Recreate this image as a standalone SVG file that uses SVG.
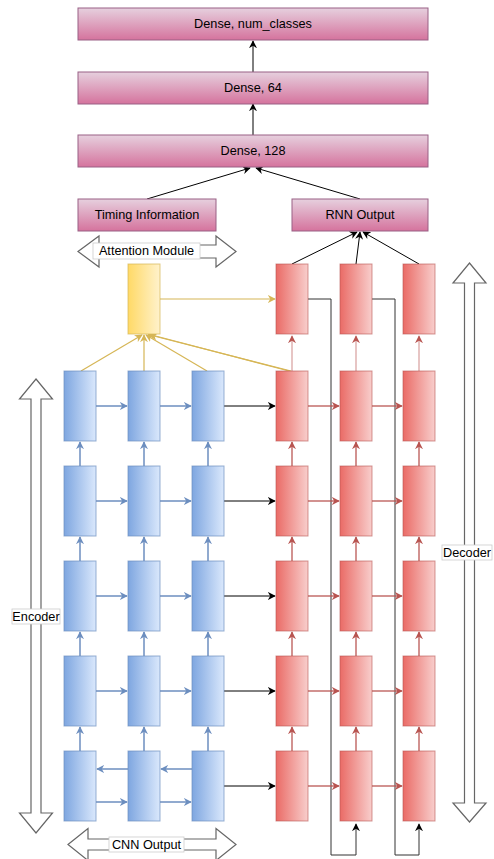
<svg xmlns="http://www.w3.org/2000/svg" width="494" height="859" viewBox="0 0 494 859">
<defs>
<linearGradient id="gBlue" x1="0" y1="0" x2="1" y2="0"><stop offset="0" stop-color="#7ea6e0"/><stop offset="1" stop-color="#dae8fc"/></linearGradient>
<linearGradient id="gRed" x1="0" y1="0" x2="1" y2="0"><stop offset="0" stop-color="#ea6b66"/><stop offset="1" stop-color="#f8cecc"/></linearGradient>
<linearGradient id="gYel" x1="0" y1="0" x2="1" y2="0"><stop offset="0" stop-color="#ffd966"/><stop offset="1" stop-color="#fff2cc"/></linearGradient>
<linearGradient id="gPink" x1="0" y1="0" x2="0" y2="1"><stop offset="0" stop-color="#e6d0de"/><stop offset="1" stop-color="#d5739d"/></linearGradient>
<marker id="aK" viewBox="0 0 10 10" refX="9" refY="5" markerWidth="8" markerHeight="8" markerUnits="userSpaceOnUse" orient="auto"><path d="M0,0 L10,5 L0,10 L3,5 Z" fill="#000"/></marker>
<marker id="aB" viewBox="0 0 10 10" refX="9" refY="5" markerWidth="8" markerHeight="8" markerUnits="userSpaceOnUse" orient="auto"><path d="M0,0 L10,5 L0,10 L3,5 Z" fill="#6c8ebf"/></marker>
<marker id="aR" viewBox="0 0 10 10" refX="9" refY="5" markerWidth="8" markerHeight="8" markerUnits="userSpaceOnUse" orient="auto"><path d="M0,0 L10,5 L0,10 L3,5 Z" fill="#b85450"/></marker>
<marker id="aY" viewBox="0 0 10 10" refX="9" refY="5" markerWidth="8" markerHeight="8" markerUnits="userSpaceOnUse" orient="auto"><path d="M0,0 L10,5 L0,10 L3,5 Z" fill="#d6b656"/></marker>
</defs>
<style>
text{font-family:"Liberation Sans",Arial,sans-serif;font-size:12.7px;fill:#000;text-anchor:middle;dominant-baseline:central}
.dense{fill:url(#gPink);stroke:#996185;stroke-width:1}
.blue{fill:url(#gBlue);stroke:#6c8ebf;stroke-opacity:0.7}
.red{fill:url(#gRed);stroke:#b85450;stroke-opacity:0.6}
.yel{fill:url(#gYel);stroke:#d6b656;stroke-opacity:0.7}
.big{fill:#fff;stroke:#666;stroke-width:1.2}
.lbl{fill:#fff;stroke:#ccc;stroke-width:0.8}
.ck{fill:none;stroke:#000;stroke-width:1;marker-end:url(#aK)}
.cl{fill:none;stroke:#333;stroke-width:1}
.cb{fill:none;stroke:#6c8ebf;stroke-width:1.5;marker-end:url(#aB)}
.cr{fill:none;stroke:#b85450;stroke-width:1.5;stroke-opacity:0.85;marker-end:url(#aR)}
.cr2{fill:none;stroke:#b85450;stroke-width:1.5;stroke-opacity:0.45;marker-end:url(#aR)}
.cy{fill:none;stroke:#d6b656;stroke-width:1.2;marker-end:url(#aY)}
</style>

<g id="connectors">
<!-- dense chain -->
<line class="ck" x1="253" y1="72" x2="253" y2="41"/>
<line class="ck" x1="253" y1="135" x2="253" y2="104"/>
<line class="ck" x1="147" y1="199" x2="250" y2="168"/>
<line class="ck" x1="360" y1="199" x2="256" y2="168"/>
<!-- to RNN output -->
<line class="ck" x1="292" y1="264" x2="357" y2="232"/>
<line class="ck" x1="356" y1="264" x2="360" y2="232"/>
<line class="ck" x1="419" y1="264" x2="363" y2="232"/>
<!-- attention -->
<line class="cy" x1="160" y1="299" x2="275" y2="299"/>
<line class="cy" x1="81" y1="371" x2="142" y2="335"/>
<line class="cy" x1="144" y1="371" x2="144" y2="335"/>
<line class="cy" x1="207" y1="371" x2="146" y2="335"/>
<line class="cy" x1="291" y1="371" x2="150" y2="335"/>
<line class="cy" x1="289" y1="371" x2="148" y2="334"/>
<!-- loops -->
<polyline class="cl" points="308,299 331,299 331,855 356,855 356,824" style="marker-end:url(#aK)"/>
<polyline class="cl" points="372,299 395,299 395,855 419,855 419,824" style="marker-end:url(#aK)"/>
<!-- encoder horizontals rows 1-4 -->
<g>
<line class="cb" x1="96" y1="406" x2="127" y2="406"/><line class="cb" x1="160" y1="406" x2="191" y2="406"/>
<line class="cb" x1="96" y1="501" x2="127" y2="501"/><line class="cb" x1="160" y1="501" x2="191" y2="501"/>
<line class="cb" x1="96" y1="596" x2="127" y2="596"/><line class="cb" x1="160" y1="596" x2="191" y2="596"/>
<line class="cb" x1="96" y1="691" x2="127" y2="691"/><line class="cb" x1="160" y1="691" x2="191" y2="691"/>
<line class="cb" x1="128" y1="769" x2="97" y2="769"/><line class="cb" x1="192" y1="769" x2="161" y2="769"/>
<line class="cb" x1="96" y1="802" x2="127" y2="802"/><line class="cb" x1="160" y1="802" x2="191" y2="802"/>
</g>
<!-- encoder verticals -->
<g>
<line class="cb" x1="80" y1="466" x2="80" y2="442"/><line class="cb" x1="144" y1="466" x2="144" y2="442"/><line class="cb" x1="208" y1="466" x2="208" y2="442"/>
<line class="cb" x1="80" y1="561" x2="80" y2="537"/><line class="cb" x1="144" y1="561" x2="144" y2="537"/><line class="cb" x1="208" y1="561" x2="208" y2="537"/>
<line class="cb" x1="80" y1="656" x2="80" y2="632"/><line class="cb" x1="144" y1="656" x2="144" y2="632"/><line class="cb" x1="208" y1="656" x2="208" y2="632"/>
<line class="cb" x1="80" y1="751" x2="80" y2="727"/><line class="cb" x1="144" y1="751" x2="144" y2="727"/><line class="cb" x1="208" y1="751" x2="208" y2="727"/>
</g>
<!-- encoder to decoder -->
<g>
<line class="ck" x1="224" y1="406" x2="275" y2="406"/>
<line class="ck" x1="224" y1="501" x2="275" y2="501"/>
<line class="ck" x1="224" y1="596" x2="275" y2="596"/>
<line class="ck" x1="224" y1="691" x2="275" y2="691"/>
<line class="ck" x1="224" y1="786" x2="275" y2="786"/>
</g>
<!-- decoder horizontals -->
<g>
<line class="cr" x1="308" y1="406" x2="339" y2="406"/><line class="cr" x1="372" y1="406" x2="402" y2="406"/>
<line class="cr" x1="308" y1="501" x2="339" y2="501"/><line class="cr" x1="372" y1="501" x2="402" y2="501"/>
<line class="cr" x1="308" y1="596" x2="339" y2="596"/><line class="cr" x1="372" y1="596" x2="402" y2="596"/>
<line class="cr" x1="308" y1="691" x2="339" y2="691"/><line class="cr" x1="372" y1="691" x2="402" y2="691"/>
<line class="cr" x1="308" y1="786" x2="339" y2="786"/><line class="cr" x1="372" y1="786" x2="402" y2="786"/>
</g>
<!-- decoder verticals -->
<g>
<line class="cr2" x1="292" y1="371" x2="292" y2="336"/><line class="cr2" x1="356" y1="371" x2="356" y2="336"/><line class="cr2" x1="419" y1="371" x2="419" y2="336"/>
<line class="cr" x1="292" y1="466" x2="292" y2="442"/><line class="cr" x1="356" y1="466" x2="356" y2="442"/><line class="cr" x1="419" y1="466" x2="419" y2="442"/>
<line class="cr" x1="292" y1="561" x2="292" y2="537"/><line class="cr" x1="356" y1="561" x2="356" y2="537"/><line class="cr" x1="419" y1="561" x2="419" y2="537"/>
<line class="cr" x1="292" y1="656" x2="292" y2="632"/><line class="cr" x1="356" y1="656" x2="356" y2="632"/><line class="cr" x1="419" y1="656" x2="419" y2="632"/>
<line class="cr" x1="292" y1="751" x2="292" y2="727"/><line class="cr" x1="356" y1="751" x2="356" y2="727"/><line class="cr" x1="419" y1="751" x2="419" y2="727"/>
</g>
</g>

<g id="dense-num-classes"><rect class="dense" x="78" y="8" width="350" height="32"/><text x="253" y="24">Dense, num_classes</text></g>
<g id="dense-64"><rect class="dense" x="78" y="72" width="350" height="32"/><text x="253" y="88">Dense, 64</text></g>
<g id="dense-128"><rect class="dense" x="78" y="135" width="350" height="32"/><text x="253" y="151">Dense, 128</text></g>
<g id="timing-information"><rect class="dense" x="78" y="199" width="138" height="32"/><text x="147" y="215">Timing Information</text></g>
<g id="rnn-output"><rect class="dense" x="292" y="199" width="136" height="32"/><text x="360" y="215">RNN Output</text></g>

<g id="attention-module">
<path class="big" d="M78,251.5 L99,236 L99,245 L216,245 L216,236 L236,251.5 L216,267 L216,258 L99,258 L99,267 Z"/>
<rect class="lbl" x="93" y="243" width="107" height="16"/><text x="146.5" y="251">Attention Module</text>
</g>
<g id="encoder-arrow">
<path class="big" d="M36,379 L52.5,399 L41,399 L41,813 L52.5,813 L36,833 L19.5,813 L31,813 L31,399 L19.5,399 Z"/>
<rect class="lbl" x="12" y="609" width="48" height="15"/><text x="36" y="616.5">Encoder</text>
</g>
<g id="decoder-arrow">
<path class="big" d="M469.5,263 L486,283 L474.5,283 L474.5,803 L486,803 L469.5,822 L453,803 L464.5,803 L464.5,283 L453,283 Z"/>
<rect class="lbl" x="442" y="545" width="50" height="15"/><text x="467" y="552.5">Decoder</text>
</g>
<g id="cnn-output">
<path class="big" d="M68,844.5 L88,828.5 L88,839 L216,839 L216,828.5 L236,844.5 L216,860.5 L216,850 L88,850 L88,860.5 Z"/>
<rect class="lbl" x="109" y="837" width="75" height="15"/><text x="146.5" y="844.5">CNN Output</text>
</g>

<g id="attention-cell"><rect class="yel" x="128" y="264" width="32" height="70"/></g>

<g id="encoder-cells">
<rect class="blue" x="64" y="371" width="32" height="70"/><rect class="blue" x="128" y="371" width="32" height="70"/><rect class="blue" x="192" y="371" width="32" height="70"/>
<rect class="blue" x="64" y="466" width="32" height="70"/><rect class="blue" x="128" y="466" width="32" height="70"/><rect class="blue" x="192" y="466" width="32" height="70"/>
<rect class="blue" x="64" y="561" width="32" height="70"/><rect class="blue" x="128" y="561" width="32" height="70"/><rect class="blue" x="192" y="561" width="32" height="70"/>
<rect class="blue" x="64" y="656" width="32" height="70"/><rect class="blue" x="128" y="656" width="32" height="70"/><rect class="blue" x="192" y="656" width="32" height="70"/>
<rect class="blue" x="64" y="751" width="32" height="70"/><rect class="blue" x="128" y="751" width="32" height="70"/><rect class="blue" x="192" y="751" width="32" height="70"/>
</g>

<g id="decoder-cells">
<rect class="red" x="276" y="264" width="32" height="70"/><rect class="red" x="340" y="264" width="32" height="70"/><rect class="red" x="403" y="264" width="32" height="70"/>
<rect class="red" x="276" y="371" width="32" height="70"/><rect class="red" x="340" y="371" width="32" height="70"/><rect class="red" x="403" y="371" width="32" height="70"/>
<rect class="red" x="276" y="466" width="32" height="70"/><rect class="red" x="340" y="466" width="32" height="70"/><rect class="red" x="403" y="466" width="32" height="70"/>
<rect class="red" x="276" y="561" width="32" height="70"/><rect class="red" x="340" y="561" width="32" height="70"/><rect class="red" x="403" y="561" width="32" height="70"/>
<rect class="red" x="276" y="656" width="32" height="70"/><rect class="red" x="340" y="656" width="32" height="70"/><rect class="red" x="403" y="656" width="32" height="70"/>
<rect class="red" x="276" y="751" width="32" height="70"/><rect class="red" x="340" y="751" width="32" height="70"/><rect class="red" x="403" y="751" width="32" height="70"/>
</g>
</svg>
